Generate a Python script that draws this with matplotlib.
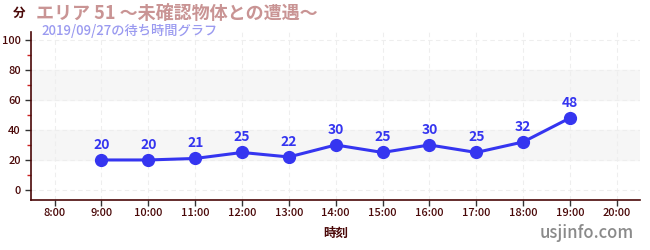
import matplotlib
matplotlib.use('Agg')
import matplotlib.pyplot as plt
from matplotlib.ticker import MultipleLocator

plt.rcParams['font.family'] = ['Noto Sans CJK JP', 'DejaVu Sans']

hours = [9, 10, 11, 12, 13, 14, 15, 16, 17, 18, 19]
waits = [20, 20, 21, 25, 22, 30, 25, 30, 25, 32, 48]
tick_hours = list(range(8, 21))
tick_labels = [f'{h}:00' for h in tick_hours]
title = 'エリア 51 ～未確認物体との遭遇～'
subtitle = '2019/09/27の待ち時間グラフ'

dark = '#4a0808'
blue = '#3535f0'

fig = plt.figure(figsize=(6.5, 2.5), dpi=100)
ax = fig.add_axes([0.048, 0.2, 0.937, 0.67])

# bands
for lo, hi in [(20, 40), (60, 80)]:
    ax.axhspan(lo, hi, color='#f6f6f6', zorder=0)

ax.set_xlim(7.5, 20.5)
ax.set_ylim(-6.7, 105)
ax.set_xticks(tick_hours)
ax.set_xticklabels(tick_labels)
ax.set_yticks([0, 20, 40, 60, 80, 100])
ax.yaxis.set_minor_locator(MultipleLocator(10))
ax.grid(True, which='major', color='#eeeeee', linestyle=(0, (4, 3)), linewidth=0.8)
ax.set_axisbelow(True)

for s in ['top', 'right']:
    ax.spines[s].set_visible(False)
for s in ['left', 'bottom']:
    ax.spines[s].set_color(dark)
    ax.spines[s].set_linewidth(1.2)
ax.tick_params(axis='both', which='major', colors='#333333', labelcolor=dark,
               labelsize=8, length=4, width=1)
for lbl in ax.get_xticklabels() + ax.get_yticklabels():
    lbl.set_fontweight('medium')
ax.tick_params(axis='y', which='minor', colors='#cc2222', length=3, width=1)
ax.tick_params(axis='x', pad=2)

ax.plot(hours, waits, color=blue, linewidth=2.2, marker='o', markersize=8.5, zorder=3)
for h, w in zip(hours, waits):
    ax.annotate(str(w), (h, w), xytext=(0, 6), textcoords='offset points',
                ha='center', va='bottom', color=blue, fontsize=10, fontweight='bold')

ax.set_xlabel('時刻', color=dark, fontsize=9, fontweight='bold', labelpad=6)

fig.text(0.03, 0.945, '分', color=dark, fontsize=9, fontweight='bold', ha='center', va='center')
fig.text(0.055, 0.945, title, color='#c99494', fontsize=13, fontweight='bold', va='center')
fig.text(0.064, 0.875, subtitle, color='#9a9af0', fontsize=9.5, fontweight='medium', va='center')
fig.text(0.975, 0.07, 'usjinfo.com', color='#8a8a8a', fontsize=12, fontweight='medium',
         ha='right', va='center')

fig.savefig('out.png', dpi=100)
